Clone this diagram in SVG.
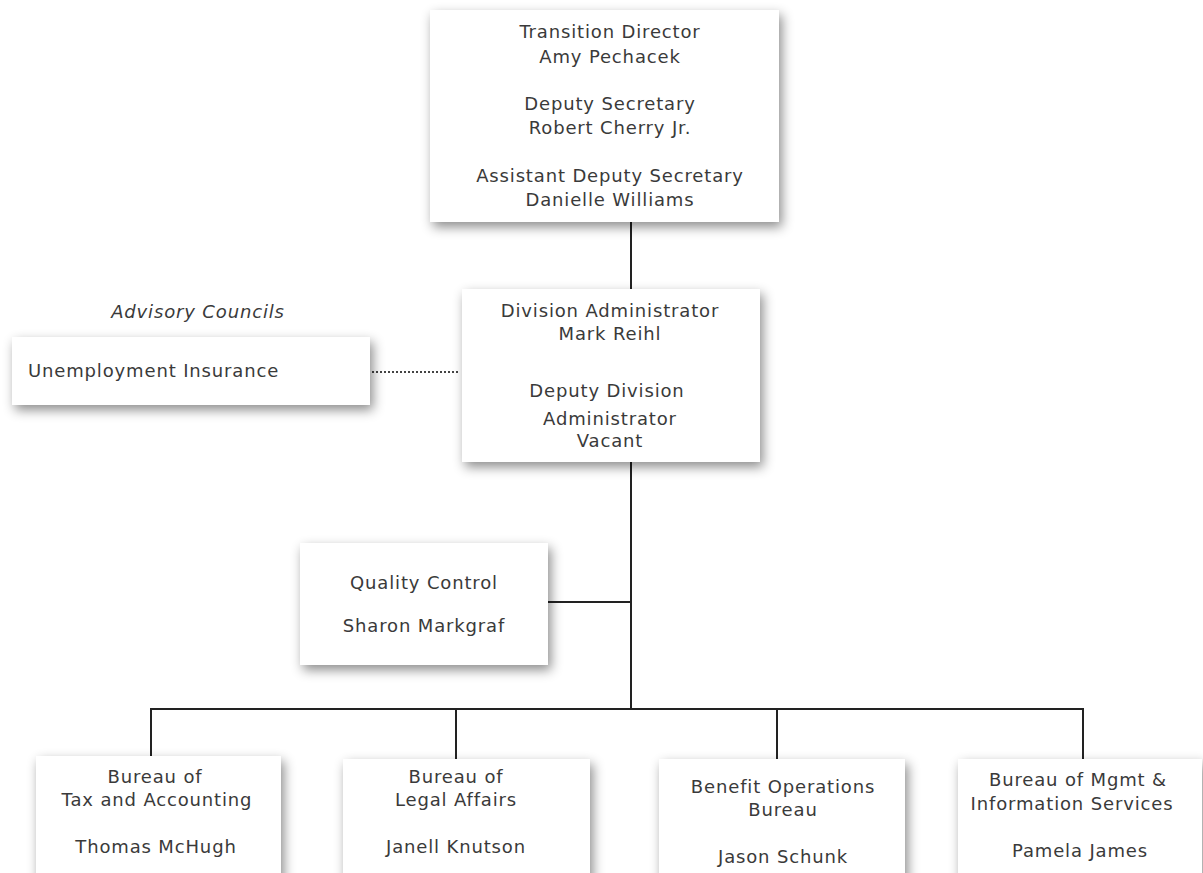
<svg xmlns="http://www.w3.org/2000/svg" width="1203" height="873" viewBox="0 0 1203 873">
<defs>
<filter id="sh" x="-20%" y="-20%" width="140%" height="150%">
<feDropShadow dx="3" dy="5" stdDeviation="6" flood-color="#000" flood-opacity="0.45"/>
</filter>
<style>
.box{fill:#fff;filter:url(#sh)}
text{font-family:"DejaVu Sans",Verdana,sans-serif;font-size:18px;letter-spacing:0.85px;fill:#3a3a3a;text-anchor:middle}
.l{text-anchor:start}
.it{font-style:italic}
.ln{stroke:#222;stroke-width:2;fill:none}
.dot{stroke:#444;stroke-width:2;stroke-dasharray:2 2;fill:none}
</style>
</defs>
<rect width="1203" height="873" fill="#fff"/>
<g id="connectors">
<line class="ln" x1="631" y1="222" x2="631" y2="289"/>
<line class="ln" x1="631" y1="462" x2="631" y2="709"/>
<line class="ln" x1="548" y1="602" x2="631" y2="602"/>
<line class="ln" x1="151" y1="709" x2="1083" y2="709"/>
<line class="ln" x1="151" y1="708" x2="151" y2="756"/>
<line class="ln" x1="456" y1="708" x2="456" y2="759"/>
<line class="ln" x1="777" y1="708" x2="777" y2="759"/>
<line class="ln" x1="1083" y1="708" x2="1083" y2="759"/>
<line class="dot" x1="372" y1="372" x2="460" y2="372"/>
</g>
<g id="top">
<rect class="box" x="430" y="10" width="349" height="212"/>
<text x="610" y="38">Transition Director</text>
<text x="610" y="63">Amy Pechacek</text>
<text x="610" y="110">Deputy Secretary</text>
<text x="610" y="134">Robert Cherry Jr.</text>
<text x="610" y="182">Assistant Deputy Secretary</text>
<text x="610" y="206">Danielle Williams</text>
</g>
<g id="division">
<rect class="box" x="462" y="289" width="298" height="173"/>
<text x="610" y="317">Division Administrator</text>
<text x="610" y="340">Mark Reihl</text>
<text x="607" y="397">Deputy Division</text>
<text x="610" y="425">Administrator</text>
<text x="610" y="447">Vacant</text>
</g>
<g id="advisory">
<text class="it" x="198" y="318">Advisory Councils</text>
</g>
<g id="unemployment">
<rect class="box" x="12" y="337" width="358" height="68"/>
<text class="l" x="28" y="377">Unemployment Insurance</text>
</g>
<g id="quality">
<rect class="box" x="300" y="543" width="248" height="122"/>
<text x="424" y="589">Quality Control</text>
<text x="424" y="632">Sharon Markgraf</text>
</g>
<g id="tax">
<rect class="box" x="36" y="756" width="245" height="130"/>
<text x="155" y="783">Bureau of</text>
<text x="157" y="806">Tax and Accounting</text>
<text x="156" y="853">Thomas McHugh</text>
</g>
<g id="legal">
<rect class="box" x="343" y="759" width="247" height="130"/>
<text x="456" y="783">Bureau of</text>
<text x="456" y="806">Legal Affairs</text>
<text x="456" y="853">Janell Knutson</text>
</g>
<g id="benefit">
<rect class="box" x="659" y="759" width="246" height="130"/>
<text x="783" y="793">Benefit Operations</text>
<text x="783" y="816">Bureau</text>
<text x="783" y="863">Jason Schunk</text>
</g>
<g id="mgmt">
<rect class="box" x="958" y="759" width="244" height="130"/>
<text x="1078" y="786">Bureau of Mgmt &amp;</text>
<text x="1072" y="810">Information Services</text>
<text x="1080" y="857">Pamela James</text>
</g>
</svg>
